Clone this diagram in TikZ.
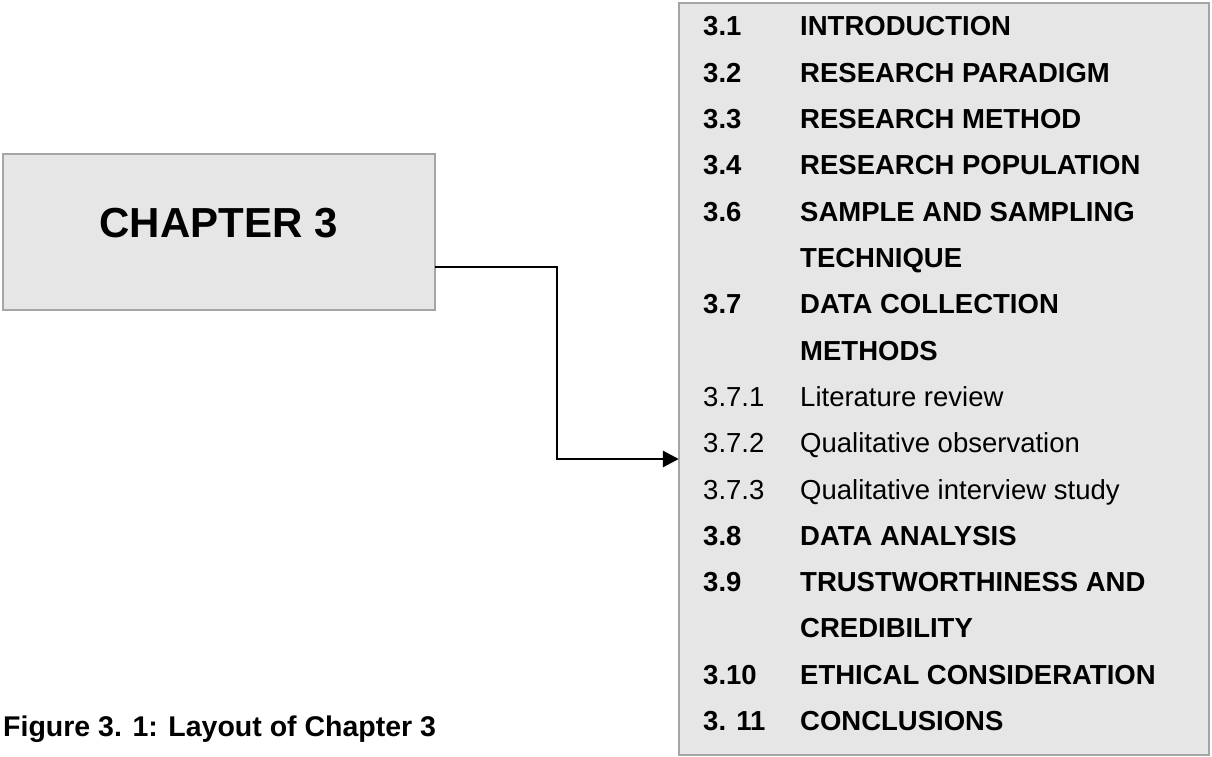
\documentclass[tikz,border=0pt]{standalone}
\usepackage{fontspec}
\setmainfont{Liberation Sans}
\usetikzlibrary{arrows.meta}
\definecolor{boxfill}{RGB}{230,230,230}
\definecolor{boxline}{RGB}{165,165,165}
\begin{document}
\begin{tikzpicture}[x=1pt,y=-1pt,
  panel/.style={draw=boxline,line width=1.4pt,fill=boxfill},
  num/.style={anchor=base west,inner sep=0pt,font=\fontsize{27.5}{27.5}\selectfont\bfseries},
  item/.style={anchor=base west,inner sep=0pt,font=\fontsize{27.5}{27.5}\selectfont\bfseries},
  subnum/.style={anchor=base west,inner sep=0pt,font=\fontsize{27.5}{27.5}\selectfont},
  subitem/.style={anchor=base west,inner sep=0pt,font=\fontsize{27.5}{27.5}\selectfont},
  conn/.style={line width=2.9pt,-{Triangle[length=16pt,width=16pt]}}]
\useasboundingbox (0,0) rectangle (1212,757);

% chapter box
\draw[panel] (3,154) rectangle (435,310);
\node[inner sep=0pt,minimum width=432pt,minimum height=156pt] (chap) at (219,232) {};
\node[anchor=base,inner sep=0pt,font=\fontsize{42}{42}\selectfont\bfseries] (chaptitle) at (218.5,237) {CHAPTER 3};

% contents box
\draw[panel] (679,3) rectangle (1209,755);
\node[inner sep=0pt,minimum width=530pt,minimum height=752pt] (toc) at (944,379) {};

% contents entries (baselines, 46.3 apart)
\def\colA{703}
\def\colB{800}
\def\row#1{\fpeval{36+46.3*#1}}
\node[num] (n31) at (\colA,\row{0}) {3.1};   \node[item] (t31) at (\colB,\row{0}) {INTRODUCTION};
\node[num] (n32) at (\colA,\row{1}) {3.2};   \node[item] (t32) at (\colB,\row{1}) {RESEARCH PARADIGM};
\node[num] (n33) at (\colA,\row{2}) {3.3};   \node[item] (t33) at (\colB,\row{2}) {RESEARCH METHOD};
\node[num] (n34) at (\colA,\row{3}) {3.4};   \node[item] (t34) at (\colB,\row{3}) {RESEARCH POPULATION};
\node[num] (n36) at (\colA,\row{4}) {3.6};   \node[item] (t36) at (\colB,\row{4}) {SAMPLE AND SAMPLING};
\node[item] (t36b) at (\colB,\row{5}) {TECHNIQUE};
\node[num] (n37) at (\colA,\row{6}) {3.7};   \node[item] (t37) at (\colB,\row{6}) {DATA COLLECTION};
\node[item] (t37b) at (\colB,\row{7}) {METHODS};
\node[subnum] (n371) at (\colA,\row{8}) {3.7.1};  \node[subitem] (t371) at (\colB,\row{8}) {Literature review};
\node[subnum] (n372) at (\colA,\row{9}) {3.7.2};  \node[subitem] (t372) at (\colB,\row{9}) {Qualitative observation};
\node[subnum] (n373) at (\colA,\row{10}) {3.7.3}; \node[subitem] (t373) at (\colB,\row{10}) {Qualitative interview study};
\node[num] (n38) at (\colA,\row{11}) {3.8};  \node[item] (t38) at (\colB,\row{11}) {DATA ANALYSIS};
\node[num] (n39) at (\colA,\row{12}) {3.9};  \node[item] (t39) at (\colB,\row{12}) {TRUSTWORTHINESS AND};
\node[item] (t39b) at (\colB,\row{13}) {CREDIBILITY};
\node[num] (n310) at (\colA,\row{14}) {3.10}; \node[item] (t310) at (\colB,\row{14}) {ETHICAL CONSIDERATION};
\node[num] (n311) at (\colA,\row{15}) {3. 11}; \node[item] (t311) at (\colB,\row{15}) {CONCLUSIONS};

% elbow connector
\coordinate (bendA) at (557,267);
\coordinate (bendB) at (557,459);
\draw[conn] (bendA -| chap.east) -- (bendA) -- (bendB) -- (bendB -| toc.west);

% caption
\node[anchor=base west,inner sep=0pt,font=\fontsize{28.5}{28.5}\selectfont\bfseries] (caption) at (3,736) {Figure 3. 1: Layout of Chapter 3};
\end{tikzpicture}
\end{document}
